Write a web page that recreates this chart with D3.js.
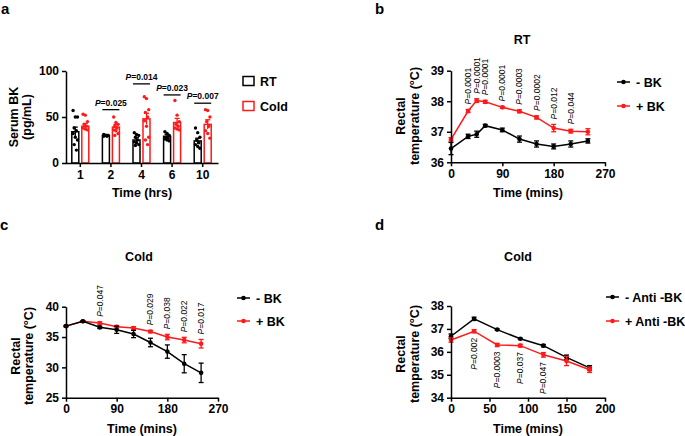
<!DOCTYPE html>
<html>
<head>
<meta charset="utf-8">
<script src="https://cdn.jsdelivr.net/npm/d3@7"></script>
<style>
  body { margin: 0; background: #fff; }
  svg { display: block; font-family: "Liberation Sans", Arial, sans-serif; }
  .axis path, .axis line { stroke: #000; stroke-width: 1.5px; }
  .axis text { font-size: 12px; font-weight: bold; fill: #000; }
</style>
</head>
<body>
<svg id="chart" width="685" height="436"></svg>
<script>
// === Panel a: serum BK (bars + individual points) ===
const groupsA = ['1', '2', '4', '6', '10'];
const rtMeanA = [34, 30, 25, 29, 24];
const rtSemA = [5, 1, 2.5, 2, 3];
const coldMeanA = [40, 39, 48, 44, 42];
const coldSemA = [3, 3, 6, 4.5, 5];
const rtDotsA = [
    [57, 50, 50, 38, 35, 32, 28, 25, 20, 14],
    [31, 30, 30, 30, 29, 29, 30],
    [33, 31, 30, 28, 25, 23, 22, 20, 19],
    [34, 32, 30, 28, 27, 26, 25, 24],
    [38, 33, 28, 25, 22, 20, 18, 16]
];
const coldDotsA = [
    [53, 52, 45, 42, 40, 38, 37, 36],
    [50, 44, 42, 40, 38, 36, 35, 32, 30],
    [72, 70, 58, 55, 50, 46, 40, 28, 25, 20],
    [68, 52, 45, 42, 40, 38, 37, 36],
    [58, 57, 50, 45, 40, 35, 32, 27]
];
const sigGroupsA = ['2', '4', '6', '10'];
const sigLevelsA = [58, 86, 74, 65];
const sigLabelsA = ['=0.025', '=0.014', '=0.023', '=0.007'];

// === Panel b: RT, rectal temperature ===
const timesB = [0, 30, 45, 60, 90, 120, 150, 180, 210, 240];
const minusBkB = [36.45, 36.85, 36.92, 37.2, 37.06, 36.76, 36.6, 36.52, 36.6, 36.7];
const minusBkSemB = [0.2, 0.07, 0.1, 0.04, 0.06, 0.1, 0.1, 0.08, 0.1, 0.07];
const plusBkB = [36.75, 37.68, 38.02, 37.98, 37.8, 37.67, 37.47, 37.12, 37.02, 37.0];
const plusBkSemB = [0.06, 0.05, 0.06, 0.05, 0.03, 0.05, 0.05, 0.12, 0.06, 0.1];
const pTimesB = [30, 45, 60, 90, 120, 150, 180, 210];
const pLabelsB = ['=0.0001', '=0.0001', '=0.0001', '=0.0001', '=0.0003', '=0.0002', '=0.012', '=0.044'];

// === Panel c: Cold, rectal temperature ===
const timesC = [0, 30, 60, 90, 120, 150, 180, 210, 240];
const minusBkC = [36.8, 37.6, 36.6, 36.2, 35.5, 34.1, 32.6, 30.6, 29.1];
const minusBkSemC = [0.1, 0.1, 0.2, 0.6, 0.6, 0.7, 1.1, 1.5, 1.6];
const plusBkC = [36.8, 37.6, 37.3, 36.7, 36.5, 35.9, 35.0, 34.5, 33.9];
const plusBkSemC = [0.1, 0.1, 0.2, 0.2, 0.2, 0.2, 0.45, 0.45, 0.7];
const pTimesC = [60, 150, 180, 210, 240];
const pLabelsC = ['=0.047', '=0.029', '=0.038', '=0.022', '=0.017'];

// === Panel d: Cold, anti-BK ===
const timesD = [0, 30, 60, 90, 120, 150, 180];
const minusAntiD = [36.68, 37.44, 36.97, 36.57, 36.27, 35.76, 35.3];
const minusAntiSemD = [0.1, 0.07, 0.03, 0.03, 0.05, 0.1, 0.1];
const plusAntiD = [36.52, 36.9, 36.3, 36.27, 35.87, 35.6, 35.22];
const plusAntiSemD = [0.1, 0.07, 0.07, 0.06, 0.1, 0.2, 0.12];
const pTimesD = [30, 60, 90, 120];
const pLabelsD = ['=0.002', '=0.0003', '=0.037', '=0.047'];

const RED = '#ff1a1a';
const svg = d3.select('#chart');

// small helper: text with italic "P"
function pText(g, label, size, weight) {
    g.append('tspan').attr('font-style', 'italic').text('P');
    g.append('tspan').text(label);
    g.attr('font-size', size).attr('font-weight', weight).attr('fill', '#000');
}

function styleAxis(g) {
    g.attr('class', 'axis');
}

// rotated two line y title
function yTitle(x1, x2, cy, line1, line2) {
    svg.append('text').attr('transform', `translate(${x1},${cy}) rotate(-90)`)
        .attr('text-anchor', 'middle').attr('font-size', 12.5).attr('font-weight', 'bold').text(line1);
    svg.append('text').attr('transform', `translate(${x2},${cy}) rotate(-90)`)
        .attr('text-anchor', 'middle').attr('font-size', 12.5).attr('font-weight', 'bold').text(line2);
}

function label(x, y, txt, size, anchor) {
    svg.append('text').attr('x', x).attr('y', y).attr('text-anchor', anchor || 'middle')
        .attr('font-size', size).attr('font-weight', 'bold').text(txt);
}

// ---------- panel a ----------
(function panelA() {
    const x = d3.scaleBand().domain(groupsA).range([65, 218]);
    const y = d3.scaleLinear().domain([0, 100]).range([163, 71]);
    const g = svg.append('g');
    const bw = 7, off = 5;

    const series = [
        { mean: rtMeanA, sem: rtSemA, dots: rtDotsA, color: '#000', dx: -off },
        { mean: coldMeanA, sem: coldSemA, dots: coldDotsA, color: RED, dx: off }
    ];

    series.forEach(s => {
        groupsA.forEach((grp, i) => {
            const cx = x(grp) + x.bandwidth() / 2 + s.dx;
            g.append('rect')
                .attr('x', cx - bw / 2).attr('y', y(s.mean[i]))
                .attr('width', bw).attr('height', y(0) - y(s.mean[i]))
                .attr('fill', '#fff').attr('stroke', s.color).attr('stroke-width', 1.5);
            // points
            s.dots[i].forEach((v, j) => {
                g.append('circle')
                    .attr('cx', cx + ((j * 7) % 5 - 2) * 1.1)
                    .attr('cy', y(v)).attr('r', 1.7).attr('fill', s.color);
            });
            // error bar
            const top = y(s.mean[i] + s.sem[i]), bot = y(s.mean[i] - s.sem[i]);
            g.append('line').attr('x1', cx).attr('x2', cx).attr('y1', top).attr('y2', bot)
                .attr('stroke', s.color).attr('stroke-width', 1.3);
            g.append('line').attr('x1', cx - 2.5).attr('x2', cx + 2.5).attr('y1', top).attr('y2', top)
                .attr('stroke', s.color).attr('stroke-width', 1.3);
        });
    });

    // significance bars
    sigGroupsA.forEach((grp, i) => {
        const c = x(grp) + x.bandwidth() / 2;
        const ly = y(sigLevelsA[i]);
        g.append('line').attr('x1', c - off - bw / 2).attr('x2', c + off + bw / 2)
            .attr('y1', ly).attr('y2', ly).attr('stroke', '#000').attr('stroke-width', 1.3);
        const t = g.append('text').attr('x', c).attr('y', ly - 4).attr('text-anchor', 'middle');
        pText(t, sigLabelsA[i], 8.5, 'bold');
    });

    g.append('g').attr('transform', `translate(0,${y(0)})`)
        .call(d3.axisBottom(x).tickSize(4).tickPadding(3).tickSizeOuter(0))
        .call(styleAxis);
    g.append('g').attr('transform', 'translate(66,0)')
        .call(d3.axisLeft(y).tickValues([0, 50, 100]).tickSize(4).tickPadding(3).tickSizeOuter(0))
        .call(styleAxis);

    // legend
    [['RT', '#000', 81], ['Cold', RED, 106]].forEach(([name, col, ly]) => {
        g.append('rect').attr('x', 243).attr('y', ly - 4.5).attr('width', 11).attr('height', 9)
            .attr('fill', '#fff').attr('stroke', col).attr('stroke-width', 1.5);
        g.append('text').attr('x', 260).attr('y', ly + 4.5).attr('font-size', 12.5)
            .attr('font-weight', 'bold').text(name);
    });

    yTitle(18, 31, 117, 'Serum BK', '(pg/mL)');
    label(142, 197, 'Time (hrs)', 12.5);
    label(1, 14, 'a', 15, 'start');
})();

// ---------- line panels ----------
function linePanel(cfg) {
    const x = d3.scaleLinear().domain(cfg.xDomain).range(cfg.xRange);
    const y = d3.scaleLinear().domain(cfg.yDomain).range(cfg.yRange);
    const g = svg.append('g');
    const line = d3.line().x(d => x(d[0])).y(d => y(d[1]));

    cfg.series.forEach(s => {
        const pts = cfg.times.map((t, i) => [t, s.mean[i], s.sem[i]]);
        g.append('path').datum(pts).attr('d', line)
            .attr('fill', 'none').attr('stroke', s.color).attr('stroke-width', 1.5);
        pts.forEach(p => {
            const cx = x(p[0]), top = y(p[1] + p[2]), bot = y(p[1] - p[2]);
            g.append('line').attr('x1', cx).attr('x2', cx).attr('y1', top).attr('y2', bot)
                .attr('stroke', s.color).attr('stroke-width', 1.3);
            [top, bot].forEach(yy => g.append('line')
                .attr('x1', cx - 2.5).attr('x2', cx + 2.5).attr('y1', yy).attr('y2', yy)
                .attr('stroke', s.color).attr('stroke-width', 1.3));
            g.append('circle').attr('cx', cx).attr('cy', y(p[1])).attr('r', 2.3).attr('fill', s.color);
        });
    });

    // P value labels, rotated
    const ref = cfg.pRef;
    cfg.pTimes.forEach((t, i) => {
        const k = cfg.times.indexOf(t);
        const m = ref.mean[k];
        const e = ref.sem[k];
        const t0 = cfg.pAbove ? y(m + e) - 5 : y(m - e) + 5;
        const txt = g.append('text')
            .attr('transform', `translate(${x(t) + 3},${t0}) rotate(-90)`)
            .attr('text-anchor', cfg.pAbove ? 'start' : 'end');
        pText(txt, cfg.pLabels[i], 8.5, 'normal');
    });

    g.append('g').attr('transform', `translate(0,${cfg.yRange[0]})`)
        .call(d3.axisBottom(x).tickValues(cfg.xTicks).tickFormat(d3.format('d'))
            .tickSize(4).tickPadding(3).tickSizeOuter(0))
        .call(styleAxis);
    g.append('g').attr('transform', `translate(${cfg.xRange[0]},0)`)
        .call(d3.axisLeft(y).tickValues(cfg.yTicks).tickFormat(d3.format('d'))
            .tickSize(4).tickPadding(3).tickSizeOuter(0))
        .call(styleAxis);

    // legend
    cfg.legend.forEach(([name, col, ly]) => {
        const lx = cfg.legendX;
        g.append('line').attr('x1', lx).attr('x2', lx + 13).attr('y1', ly).attr('y2', ly)
            .attr('stroke', col).attr('stroke-width', 1.5);
        g.append('circle').attr('cx', lx + 6.5).attr('cy', ly).attr('r', 2.3).attr('fill', col);
        g.append('text').attr('x', lx + 19).attr('y', ly + 4.5).attr('font-size', 12.5)
            .attr('font-weight', 'bold').text(name);
    });

    label(cfg.titlePos[0], cfg.titlePos[1], cfg.title, 12.5);
    yTitle(cfg.yTitleX[0], cfg.yTitleX[1], cfg.yTitleY, 'Rectal', 'temperature (°C)');
    label((cfg.xRange[0] + cfg.xRange[1]) / 2, cfg.yRange[0] + 35, 'Time (mins)', 12.5);
    label(cfg.letterPos[0], cfg.letterPos[1], cfg.letter, 15, 'start');
}

linePanel({
    times: timesB, xDomain: [0, 270], xRange: [451, 605], yDomain: [36, 39], yRange: [162.3, 70.7],
    xTicks: [0, 90, 180, 270], yTicks: [36, 37, 38, 39],
    series: [
        { mean: minusBkB, sem: minusBkSemB, color: '#000' },
        { mean: plusBkB, sem: plusBkSemB, color: RED }
    ],
    pRef: { mean: plusBkB, sem: plusBkSemB }, pTimes: pTimesB, pLabels: pLabelsB, pAbove: true,
    legend: [['- BK', '#000', 82], ['+ BK', RED, 106]], legendX: 617,
    title: 'RT', titlePos: [522, 44], yTitleX: [405, 419], yTitleY: 116,
    letter: 'b', letterPos: [375, 14]
});

linePanel({
    times: timesC, xDomain: [0, 270], xRange: [66, 218], yDomain: [25, 40], yRange: [397.7, 306.7],
    xTicks: [0, 90, 180, 270], yTicks: [25, 30, 35, 40],
    series: [
        { mean: plusBkC, sem: plusBkSemC, color: RED },
        { mean: minusBkC, sem: minusBkSemC, color: '#000' }
    ],
    pRef: { mean: plusBkC, sem: plusBkSemC }, pTimes: pTimesC, pLabels: pLabelsC, pAbove: true,
    legend: [['- BK', '#000', 298], ['+ BK', RED, 321]], legendX: 237,
    title: 'Cold', titlePos: [139, 261], yTitleX: [20, 33], yTitleY: 356,
    letter: 'c', letterPos: [0, 230]
});

linePanel({
    times: timesD, xDomain: [0, 200], xRange: [451, 605], yDomain: [34, 38], yRange: [397.7, 306],
    xTicks: [0, 50, 100, 150, 200], yTicks: [34, 35, 36, 37, 38],
    series: [
        { mean: minusAntiD, sem: minusAntiSemD, color: '#000' },
        { mean: plusAntiD, sem: plusAntiSemD, color: RED }
    ],
    pRef: { mean: plusAntiD, sem: plusAntiSemD }, pTimes: pTimesD, pLabels: pLabelsD, pAbove: false,
    legend: [['- Anti -BK', '#000', 297], ['+ Anti -BK', RED, 321]], legendX: 606,
    title: 'Cold', titlePos: [518, 261], yTitleX: [405, 419], yTitleY: 354,
    letter: 'd', letterPos: [375, 230]
});
</script>
</body>
</html>
